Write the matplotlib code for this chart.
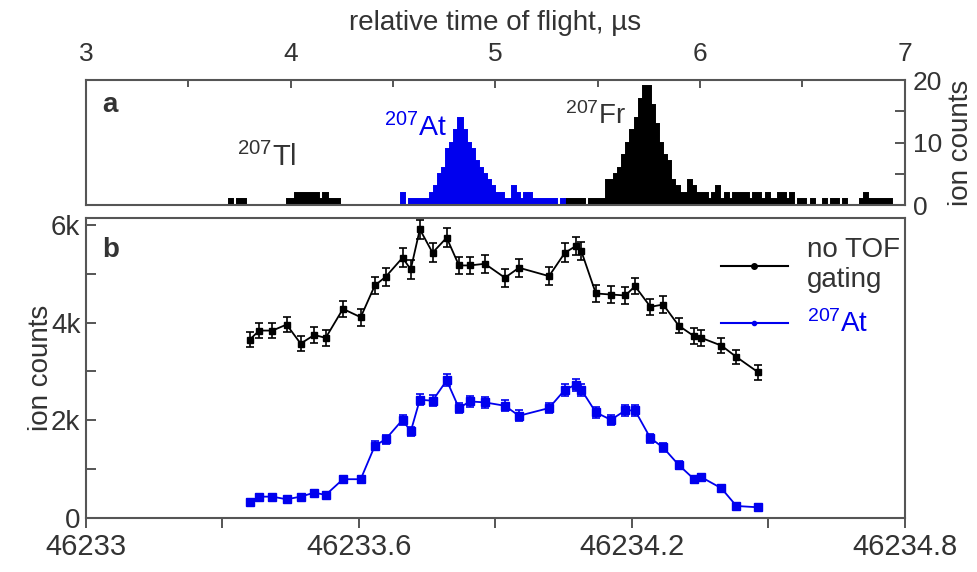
import numpy as np
import matplotlib
matplotlib.use('Agg')
import matplotlib.pyplot as plt
from matplotlib.lines import Line2D
from matplotlib.ticker import MultipleLocator, FixedLocator

plt.rcParams['font.family'] = ['Liberation Sans', 'DejaVu Sans']
plt.rcParams['mathtext.default'] = 'regular'

BLUE = '#0000ee'
GREY = '#333333'

# (a) time-of-flight histogram, 0.02 us bins
bin_width = 0.02
tl_start = 3.70
tl_counts = [1, 0, 1, 1, 0, 0, 0, 0, 0, 0, 0, 0, 0, 0, 1,
             1, 2, 2, 2, 2, 2, 2, 1, 2, 1, 1, 1, 0, 0, 0,
             0, 0, 0, 0, 0]
at_start = 4.40
at_counts = [0, 0, 0, 0, 0, 0, 0, 2, 0, 1, 1, 1, 1, 1, 2,
             3, 5, 6, 9, 10, 12, 14, 12, 10, 9, 7, 6, 5, 4, 3,
             2, 2, 1, 1, 3, 2, 1, 2, 2, 1, 1, 1, 1, 1, 1,
             0, 1]
fr_start = 5.34
fr_counts = [1, 1, 1, 1, 1, 0, 1, 1, 1, 1, 4, 4, 5, 6, 8,
             10, 12, 14, 17, 19, 19, 16, 13, 10, 8, 7, 4, 3, 2, 2,
             4, 3, 2, 2, 2, 1, 2, 3, 1, 2, 1, 2, 2, 2, 2,
             1, 2, 2, 1, 2, 1, 1, 2, 2, 1, 2, 0, 1, 1, 0,
             1, 0, 0, 1, 0, 1, 1, 0, 1, 0, 0, 0, 1, 2, 1,
             1, 1, 1, 1, 1]

# (b) ion counts vs. frequency
freq = [46233.360, 46233.381, 46233.410, 46233.441, 46233.472, 46233.502,
        46233.527, 46233.565, 46233.604, 46233.635, 46233.659, 46233.696,
        46233.714, 46233.734, 46233.762, 46233.793, 46233.820, 46233.844,
        46233.877, 46233.921, 46233.952, 46234.018, 46234.053, 46234.077,
        46234.089, 46234.121, 46234.154, 46234.186, 46234.207, 46234.241,
        46234.269, 46234.303, 46234.337, 46234.353, 46234.397, 46234.430,
        46234.478]
counts_all = [3651, 3836, 3836, 3959, 3569, 3747, 3686, 4280, 4109, 4759,
              4937, 5327, 5087, 5908, 5429, 5737, 5169, 5169, 5203, 4917,
              5122, 4950, 5429, 5566, 5463, 4595, 4574, 4554, 4745, 4322,
              4369, 3938, 3720, 3686, 3528, 3296, 2981]
err_all = [150, 160, 160, 160, 150, 160, 160, 170, 170, 180, 180, 190, 190,
           200, 190, 190, 180, 180, 180, 180, 180, 180, 190, 190, 190, 170,
           170, 170, 170, 170, 170, 160, 160, 160, 150, 150, 150]
counts_at = [334, 437, 437, 383, 437, 519, 472, 794, 794, 1477, 1614, 2010,
             1771, 2421, 2400, 2817, 2250, 2386, 2366, 2297, 2092, 2250,
             2626, 2728, 2626, 2161, 2010, 2202, 2202, 1634, 1443, 1087,
             794, 835, 609, 246, 219]
err_at = [50, 50, 50, 50, 50, 60, 60, 70, 70, 90, 90, 100, 100, 110, 110, 120,
          110, 110, 110, 110, 110, 110, 120, 120, 120, 110, 100, 110, 110, 90,
          90, 80, 70, 70, 60, 40, 40]

fig = plt.figure(figsize=(9.77, 5.72), dpi=100)
ax1 = fig.add_axes([0.088, 0.6416, 0.838, 0.2185])
ax2 = fig.add_axes([0.088, 0.0944, 0.838, 0.5245])

for ax in (ax1, ax2):
    for s in ax.spines.values():
        s.set_color('#555555')
        s.set_linewidth(1.5)


def hist(ax, start, counts, color):
    edges = start + bin_width * np.arange(len(counts) + 1)
    ax.stairs(counts, edges, fill=True, color=color, linewidth=0)
    ax.stairs(counts, edges, baseline=0, color=color, linewidth=1.4)


hist(ax1, tl_start, tl_counts, 'black')
hist(ax1, fr_start, fr_counts, 'black')
hist(ax1, at_start, at_counts, BLUE)

ax1.set_xlim(3, 7)
ax1.set_ylim(0, 20)
ax1.xaxis.set_major_locator(MultipleLocator(1))
ax1.xaxis.set_minor_locator(MultipleLocator(0.5))
ax1.yaxis.set_major_locator(FixedLocator([0, 10, 20]))
ax1.yaxis.set_minor_locator(FixedLocator([5, 15]))
ax1.tick_params(axis='x', which='both', top=True, bottom=False, labeltop=True,
                labelbottom=False, direction='in', color='#555555',
                labelsize=19, labelcolor=GREY, pad=10)
ax1.tick_params(axis='x', which='major', length=6, width=1.4)
ax1.tick_params(axis='x', which='minor', length=5, width=1.4)
ax1.tick_params(axis='y', which='both', left=False, right=True, labelleft=False,
                labelright=True, direction='in', color='#555555',
                labelsize=19, labelcolor=GREY, width=1.4, length=7, pad=6)
ax1.xaxis.set_label_position('top')
ax1.set_xlabel('relative time of flight, µs', fontsize=20, color=GREY, labelpad=9)
ax1.yaxis.set_label_position('right')
ax1.set_ylabel('ion counts', fontsize=20, color=GREY, rotation=90, labelpad=4)

ax1.text(0.02, 0.8, 'a', transform=ax1.transAxes, fontsize=20,
         fontweight='bold', color=GREY, ha='left', va='center')
ax1.text(3.885, 7.6, '$^{207}$Tl', fontsize=21, color=GREY, ha='center', va='center')
ax1.text(4.61, 12.4, '$^{207}$At', fontsize=20.5, color=BLUE, ha='center', va='center')
ax1.text(5.49, 14.3, '$^{207}$Fr', fontsize=20, color=GREY, ha='center', va='center')

ax2.errorbar(freq, counts_all, yerr=err_all, fmt='-s', color='black',
             ms=5, lw=1.3, elinewidth=1.2, capsize=3, capthick=1.2)
ax2.errorbar(freq, counts_at, yerr=err_at, fmt='-s', color=BLUE,
             ms=6, lw=1.3, elinewidth=1.2, capsize=3, capthick=1.2)

ax2.set_xlim(46233, 46234.8)
ax2.set_ylim(0, 6140)
ax2.set_xticks([46233, 46233.6, 46234.2, 46234.8])
ax2.set_xticklabels(['46233', '46233.6', '46234.2', '46234.8'])
ax2.xaxis.set_minor_locator(MultipleLocator(0.3))
ax2.set_yticks([0, 2000, 4000, 6000])
ax2.set_yticklabels(['0', '2k', '4k', '6k'])
ax2.yaxis.set_minor_locator(MultipleLocator(1000))
ax2.tick_params(axis='x', which='both', direction='out', color='#555555',
                labelsize=21, labelcolor=GREY, width=1.4, length=7, pad=4)
ax2.tick_params(axis='y', which='both', direction='in', color='#555555',
                labelsize=20, labelcolor=GREY, width=1.4, length=7, pad=4)
ax2.set_ylabel('ion counts', fontsize=20, color=GREY, labelpad=-2)
ax2.text(0.02, 0.893, 'b', transform=ax2.transAxes, fontsize=20,
         fontweight='bold', color=GREY, ha='left', va='center')

handles = [Line2D([], [], color='black', marker='o', ms=4, lw=1.5),
           Line2D([], [], color=BLUE, marker='o', ms=3, lw=1.5)]
leg = ax2.legend(handles, ['no TOF\ngating', '$^{207}$At'], loc='upper right',
                 bbox_to_anchor=(1.018, 1.0), borderaxespad=0.3, frameon=False,
                 fontsize=20, handlelength=2.4, labelspacing=0.62,
                 handletextpad=0.7)
leg.get_texts()[0].set_color(GREY)
leg.get_texts()[1].set_color(BLUE)

fig.savefig('out.png', dpi=100)
